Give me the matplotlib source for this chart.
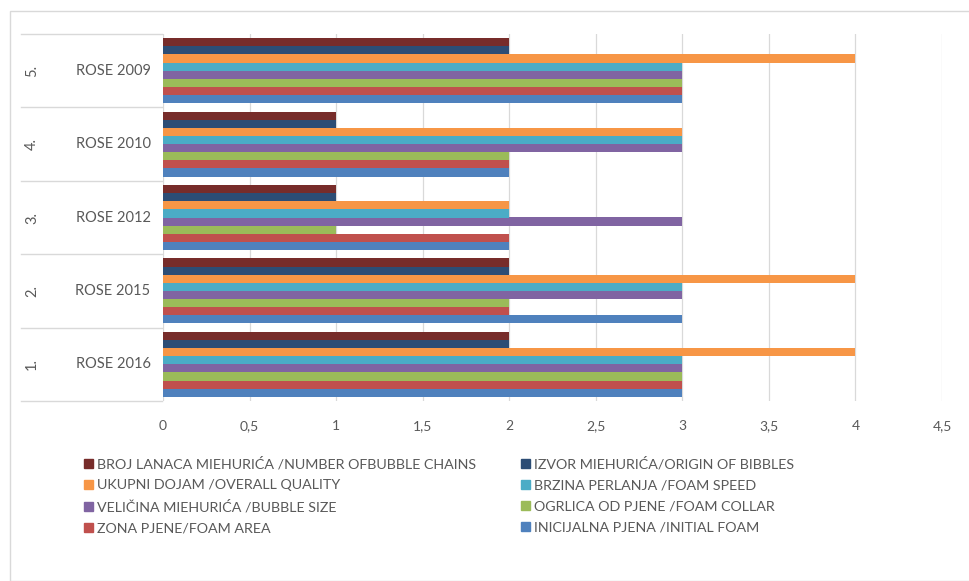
import numpy as np
import matplotlib
matplotlib.use("Agg")
import matplotlib.pyplot as plt
from matplotlib import transforms
from matplotlib.patches import Rectangle, Patch

plt.rcParams['font.family'] = ['Lato', 'DejaVu Sans']

# categories, bottom to top
categories = ["ROSE 2016", "ROSE 2015", "ROSE 2012", "ROSE 2010", "ROSE 2009"]
outer_labels = ["1.", "2.", "3.", "4.", "5."]

# series in drawing order (bottom bar of each group first)
series_names = [
    "INICIJALNA PJENA /INITIAL FOAM",
    "ZONA PJENE/FOAM AREA",
    "OGRLICA OD PJENE /FOAM COLLAR",
    "VELIČINA MIEHURIĆA /BUBBLE SIZE",
    "BRZINA PERLANJA /FOAM SPEED",
    "UKUPNI DOJAM /OVERALL QUALITY",
    "IZVOR MIEHURIĆA/ORIGIN OF BIBBLES",
    "BROJ LANACA MIEHURIĆA /NUMBER OFBUBBLE CHAINS",
]
series_colors = ["#4F81BD", "#C0504D", "#9BBB59", "#8064A2",
                 "#4BACC6", "#F79646", "#2C4D75", "#772C2A"]

# values per series, ordered like categories (2016, 2015, 2012, 2010, 2009)
inicijalna = [3, 3, 2, 2, 3]
zona = [3, 2, 2, 2, 3]
ogrlica = [3, 2, 1, 2, 3]
velicina = [3, 3, 3, 3, 3]
brzina = [3, 3, 2, 3, 3]
ukupni = [4, 4, 2, 3, 4]
izvor = [2, 2, 1, 1, 2]
broj = [2, 2, 1, 1, 2]
values = [inicijalna, zona, ogrlica, velicina, brzina, ukupni, izvor, broj]

W, H = 969, 581
fig = plt.figure(figsize=(W / 100, H / 100), dpi=100)
ax = fig.add_axes([163 / W, 1 - 401 / H, (942 - 163) / W, (401 - 34) / H])

y = np.arange(len(categories))
n = len(values)
h = 0.885 / n
for k, (vals, col) in enumerate(zip(values, series_colors)):
    ax.barh(y + (k - (n - 1) / 2) * h, vals, height=h, color=col,
            label=series_names[k], zorder=3)

ax.set_xlim(0, 4.5)
ax.set_ylim(-0.5, len(categories) - 0.5)
ticks = np.arange(0, 4.51, 0.5)
ax.set_xticks(ticks)
ax.set_xticklabels([("%g" % t).replace(".", ",") for t in ticks])
ax.tick_params(axis='x', length=0, pad=14, labelsize=10, labelcolor="#595959")
ax.set_yticks([])
ax.grid(axis='x', color="#D9D9D9", linewidth=0.9, zorder=0)
for s in ax.spines.values():
    s.set_visible(False)

# multi-level category labels on the left
trans = transforms.blended_transform_factory(fig.transFigure, ax.transData)
for b in np.arange(-0.5, len(categories), 1.0):
    ax.plot([21 / W, 162 / W], [b, b], transform=trans, color="#D9D9D9",
            linewidth=1.0, clip_on=False)
for i, (cat, num) in enumerate(zip(categories, outer_labels)):
    ax.text(113 / W, i, cat, transform=trans, ha='center', va='center',
            fontsize=10.5, color="#595959")
    ax.text(32 / W, i, num, transform=trans, ha='center', va='center',
            fontsize=10.5, color="#595959", rotation=90)

# outer frame
fig.patches.append(Rectangle((10 / W, 0), 1.2, 1 - 11 / H, transform=fig.transFigure,
                             fill=False, edgecolor="#D9D9D9", linewidth=1.0))

# legend in two columns, filled row by row
order_left = [7, 5, 3, 1]
order_right = [6, 4, 2, 0]
for order, x0 in [(order_left, 84), (order_right, 521)]:
    handles = [Patch(color=series_colors[k]) for k in order]
    labels = [series_names[k] for k in order]
    fig.legend(handles, labels, loc='upper left',
               bbox_to_anchor=(x0 / W, 1 - 457 / H), frameon=False,
               handlelength=0.6, handleheight=0.6, handletextpad=0.3,
               labelspacing=0.62, fontsize=10.3, labelcolor="#595959",
               borderaxespad=0, borderpad=0)

fig.savefig("out.png", dpi=100, facecolor="white")
